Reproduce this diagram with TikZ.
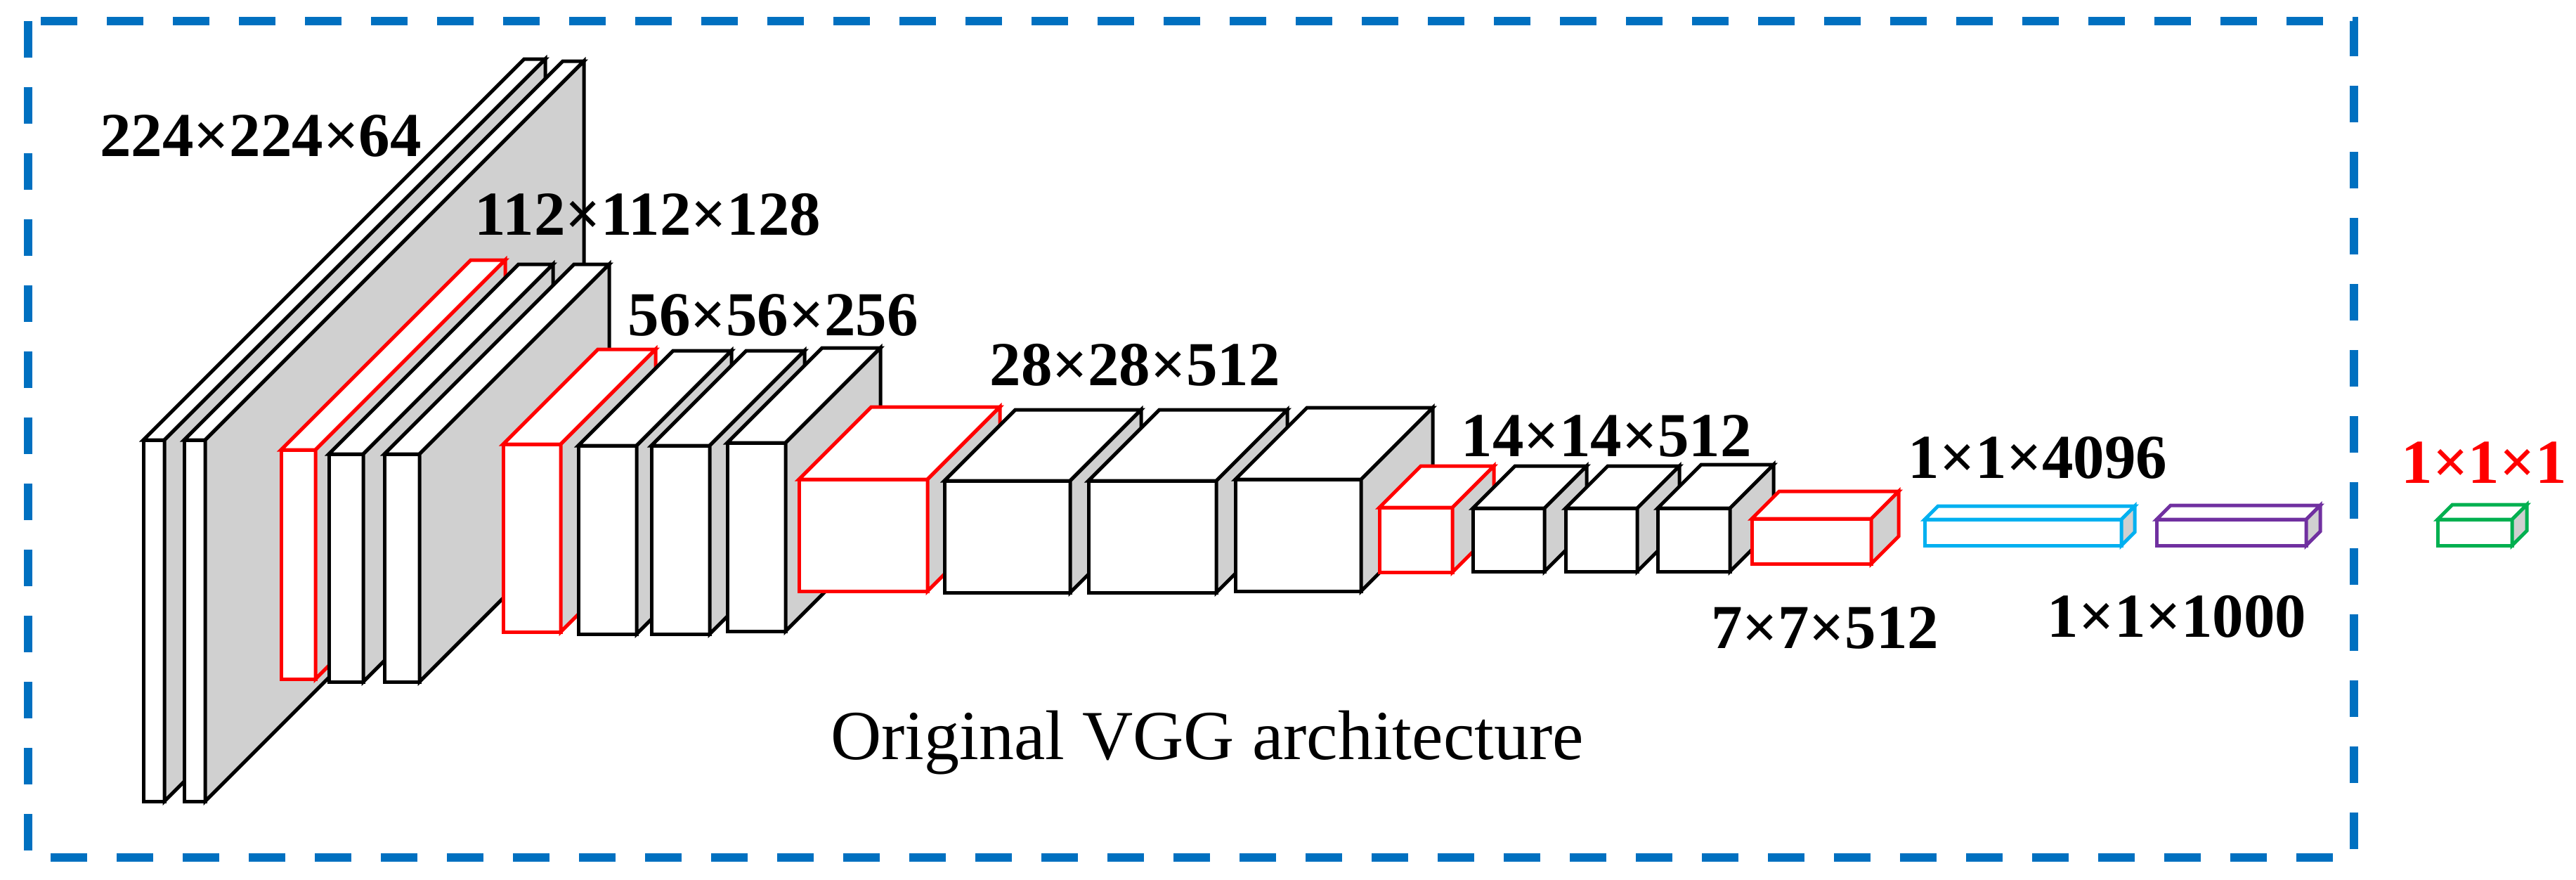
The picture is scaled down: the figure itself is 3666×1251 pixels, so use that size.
\documentclass[tikz,border=0pt]{standalone}
\usepackage{fontspec}
\setmainfont{Liberation Serif}
\definecolor{frameblue}{HTML}{0070C0}
\definecolor{sidegray}{HTML}{D0D0D0}
\definecolor{fccyan}{HTML}{00B0F0}
\definecolor{fcpurple}{HTML}{7030A0}
\definecolor{fcgreen}{HTML}{00B050}
\definecolor{lblred}{HTML}{FF0000}
\newcommand\cuboid[6]{%
  \draw[line width=5,line join=miter,draw=#6,fill=white] (#1,#2) rectangle (#3,#4);
  \draw[line width=5,line join=miter,draw=#6,fill=white] (#1,#2) -- ({#1+#5},{#2-#5}) -- ({#3+#5},{#2-#5}) -- (#3,#2) -- cycle;
  \draw[line width=5,line join=miter,draw=#6,fill=sidegray] (#3,#2) -- ({#3+#5},{#2-#5}) -- ({#3+#5},{#4-#5}) -- (#3,#4) -- cycle;
}
\begin{document}
\begin{tikzpicture}[x=1pt,y=-1pt,
  lbl/.style={font=\fontsize{89}{100}\selectfont\bfseries,inner sep=0pt},
  ttl/.style={font=\fontsize{100}{110}\selectfont,inner sep=0pt}]
\useasboundingbox (0,0) rectangle (3666,1251);
\draw[frameblue,line width=12,dash pattern=on 52 off 42] (40,30) rectangle (3350,1220);
% block 1
\cuboid{204}{626}{234}{1140}{542}{black}
\cuboid{262}{626}{292}{1140}{539}{black}
% block 2
\cuboid{400}{640}{449}{966}{270}{red}
\cuboid{468}{646}{517}{970}{270}{black}
\cuboid{547}{646}{597}{970}{270}{black}
% block 3
\cuboid{716}{632}{798}{899}{135}{red}
\cuboid{823}{634}{906}{902}{135}{black}
\cuboid{927}{634}{1010}{902}{135}{black}
\cuboid{1035}{630}{1118}{898}{135}{black}
% block 4
\cuboid{1137}{682}{1320}{841}{103}{red}
\cuboid{1344}{684}{1523}{843}{101}{black}
\cuboid{1549}{684}{1731}{843}{101}{black}
\cuboid{1758}{682}{1937}{841}{102}{black}
% block 5
\cuboid{1963}{722}{2067}{814}{59}{red}
\cuboid{2096}{723}{2198}{813}{60}{black}
\cuboid{2228}{723}{2330}{813}{60}{black}
\cuboid{2359}{723}{2462}{813}{62}{black}
% block 6 and fc
\cuboid{2493}{738}{2663}{802}{39}{red}
\cuboid{2739}{739}{3019}{776}{19}{fccyan}
\cuboid{3069}{739}{3282}{776}{20}{fcpurple}
\cuboid{3469}{739}{3575}{776}{21}{fcgreen}
% labels
\node[lbl] (l1) at (371,193) {224×224×64};
\node[lbl] (l2) at (922,305) {112×112×128};
\node[lbl] (l3) at (1100,448) {56×56×256};
\node[lbl] (l4) at (1615,519) {28×28×512};
\node[lbl] (l5) at (2286,620) {14×14×512};
\node[lbl] (l6) at (2900,651) {1×1×4096};
\node[lbl] (l7) at (2597,893) {7×7×512};
\node[lbl] (l8) at (3098,877) {1×1×1000};
\node[lbl,text=lblred] (l9) at (3535,658) {1×1×1};
\node[ttl] (t) at (1718,1057) {Original VGG architecture};
\end{tikzpicture}
\end{document}
